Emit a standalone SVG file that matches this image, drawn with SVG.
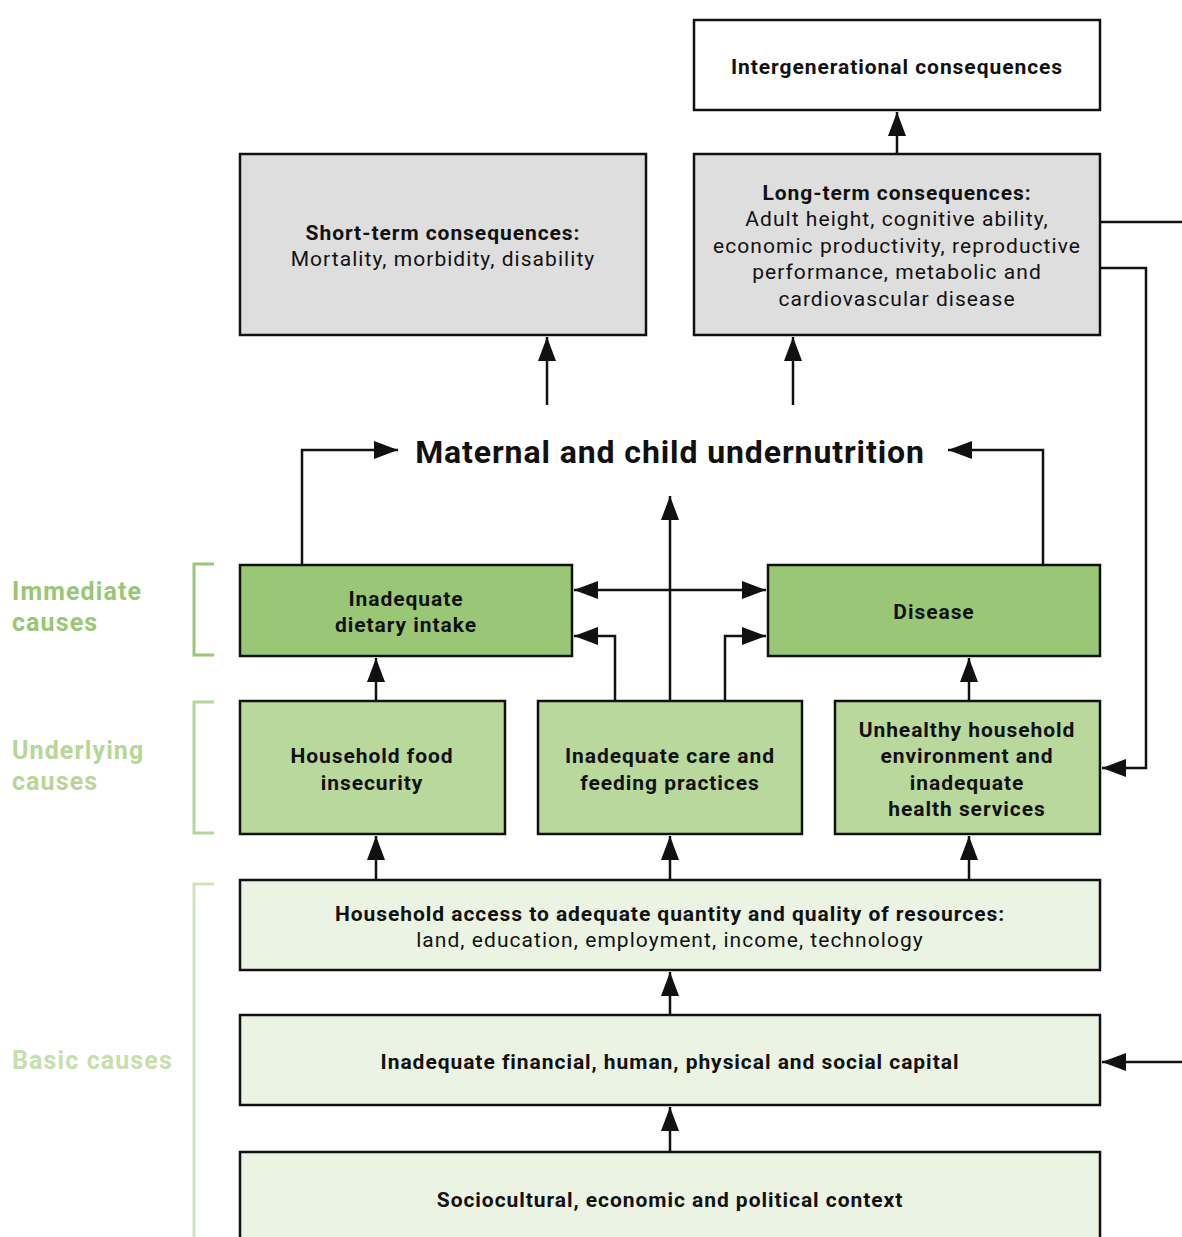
<svg xmlns="http://www.w3.org/2000/svg" width="1182" height="1237" viewBox="0 0 1182 1237">
<style>
text{font-family:Roboto,"Liberation Sans",sans-serif;fill:#111;text-anchor:middle}
.b{font-weight:bold;font-size:21px;letter-spacing:0.95px}
.r{font-weight:normal;font-size:21px;letter-spacing:1.05px}
.box{stroke:#111;stroke-width:2.5}
.grey{fill:#dedede}
.white{fill:#fff}
.g1{fill:#9ac775}
.g2{fill:#b9d89c}
.g3{fill:#ebf3e2}
.c{fill:none;stroke:#111;stroke-width:2.5}
.ca{fill:none;stroke:#111;stroke-width:2.5;marker-end:url(#ah)}
.lbl{font-weight:bold;font-size:25px;letter-spacing:1.1px;text-anchor:start}
</style>
<defs>
<marker id="ah" markerUnits="userSpaceOnUse" markerWidth="26" markerHeight="20" refX="24" refY="10" orient="auto">
<path d="M0,1 L24,10 L0,19 Z" fill="#111"/>
</marker>
<marker id="as" markerUnits="userSpaceOnUse" markerWidth="26" markerHeight="20" refX="0" refY="10" orient="auto">
<path d="M24,1 L0,10 L24,19 Z" fill="#111"/>
</marker>
</defs>
<rect width="1182" height="1237" fill="#fff"/>

<g id="labels">
<path d="M214,564 H194 V655 H214" fill="none" stroke="#9ac775" stroke-width="3"/>
<text class="lbl" x="12" y="600" style="fill:#9ac775">Immediate</text>
<text class="lbl" x="12" y="631" style="fill:#9ac775">causes</text>
<path d="M214,702 H194 V833 H214" fill="none" stroke="#b6d797" stroke-width="3"/>
<text class="lbl" x="12" y="759" style="fill:#b6d797">Underlying</text>
<text class="lbl" x="12" y="790" style="fill:#b6d797">causes</text>
<path d="M214,884 H194 V1237" fill="none" stroke="#cfe4bb" stroke-width="3"/>
<text class="lbl" x="12" y="1069" style="fill:#c6dfae">Basic causes</text>
</g>

<g id="connectors">
<path class="ca" d="M897,154 V112"/>
<path class="ca" d="M547,405 V337"/>
<path class="ca" d="M793,405 V337"/>
<path class="ca" d="M302,564 V450 H398"/>
<path class="ca" d="M1043,564 V450 H948"/>
<path class="ca" d="M670,700 V496"/>
<path class="ca" d="M574,590 H766" style="marker-start:url(#as)"/>
<path class="ca" d="M615,700 V636 H574"/>
<path class="ca" d="M725,700 V636 H766"/>
<path class="ca" d="M376,700 V658"/>
<path class="ca" d="M969,700 V658"/>
<path class="ca" d="M376,880 V836"/>
<path class="ca" d="M670,880 V836"/>
<path class="ca" d="M969,880 V836"/>
<path class="ca" d="M670,1015 V972"/>
<path class="ca" d="M670,1152 V1107"/>
<path class="c" d="M1100,222 H1182"/>
<path class="ca" d="M1100,268 H1146 V768 H1102"/>
<path class="ca" d="M1182,1062 H1102"/>
</g>

<g id="intergen">
<rect class="box white" x="694" y="20" width="406" height="90"/>
<text class="b" x="897" y="74">Intergenerational consequences</text>
</g>
<g id="shortterm">
<rect class="box grey" x="240" y="154" width="406" height="181"/>
<text class="b" x="443" y="240">Short-term consequences:</text>
<text class="r" x="443" y="266">Mortality, morbidity, disability</text>
</g>
<g id="longterm">
<rect class="box grey" x="694" y="154" width="406" height="181"/>
<text class="b" x="897" y="200">Long-term consequences:</text>
<text class="r" x="897" y="226">Adult height, cognitive ability,</text>
<text class="r" x="897" y="253">economic productivity, reproductive</text>
<text class="r" x="897" y="279">performance, metabolic and</text>
<text class="r" x="897" y="306">cardiovascular disease</text>
</g>
<g id="title">
<text x="670" y="463" style="font-weight:bold;font-size:32px;letter-spacing:0.9px">Maternal and child undernutrition</text>
</g>
<g id="dietary">
<rect class="box g1" x="240" y="565" width="332" height="91"/>
<text class="b" x="406" y="606">Inadequate</text>
<text class="b" x="406" y="632">dietary intake</text>
</g>
<g id="disease">
<rect class="box g1" x="768" y="565" width="332" height="91"/>
<text class="b" x="934" y="619">Disease</text>
</g>
<g id="foodinsecurity">
<rect class="box g2" x="240" y="701" width="265" height="133"/>
<text class="b" x="372" y="763">Household food</text>
<text class="b" x="372" y="790">insecurity</text>
</g>
<g id="care">
<rect class="box g2" x="538" y="701" width="264" height="133"/>
<text class="b" x="670" y="763">Inadequate care and</text>
<text class="b" x="670" y="790">feeding practices</text>
</g>
<g id="environment">
<rect class="box g2" x="835" y="701" width="265" height="133"/>
<text class="b" x="967" y="737">Unhealthy household</text>
<text class="b" x="967" y="763">environment and</text>
<text class="b" x="967" y="790">inadequate</text>
<text class="b" x="967" y="816">health services</text>
</g>
<g id="access">
<rect class="box g3" x="240" y="880" width="860" height="90"/>
<text class="b" x="670" y="921">Household access to adequate quantity and quality of resources:</text>
<text class="r" x="670" y="947">land, education, employment, income, technology</text>
</g>
<g id="capital">
<rect class="box g3" x="240" y="1015" width="860" height="90"/>
<text class="b" x="670" y="1069">Inadequate financial, human, physical and social capital</text>
</g>
<g id="context">
<rect class="box g3" x="240" y="1152" width="860" height="100"/>
<text class="b" x="670" y="1207">Sociocultural, economic and political context</text>
</g>
</svg>
